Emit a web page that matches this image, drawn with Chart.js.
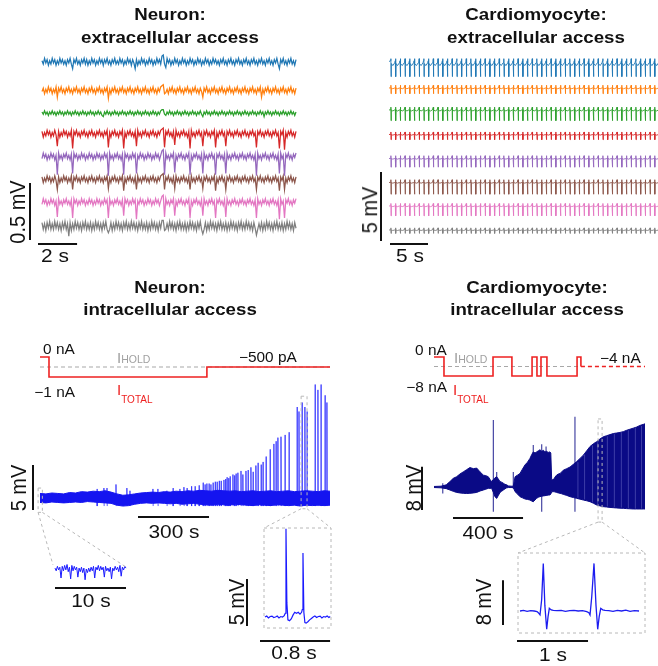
<!DOCTYPE html>
<html>
<head>
<meta charset="utf-8">
<script src="https://cdn.jsdelivr.net/npm/chart.js@4.4.1/dist/chart.umd.min.js"></script>
<style>
  body { margin: 0; background: #fff; }
  #fig { position: relative; width: 658px; height: 666px; overflow: hidden;
         font-family: "Liberation Sans", Arial, Helvetica, sans-serif; color: #111; }
  #fig canvas { position: absolute; left: 0; top: 0; }
  .t { position: absolute; white-space: nowrap; line-height: 1; }
  .ttl { font-weight: bold; font-size: 17px; transform: translateX(-50%) scaleX(1.1); }
  .sl { font-size: 19px; transform: translateX(-50%) scaleX(1.1); }
  .rl { font-size: 20px; transform: translate(-50%, -50%) rotate(-90deg) scaleY(1.08); }
  .cl { font-size: 14px; transform: scaleX(1.1); transform-origin: left; }
  .cr { font-size: 14px; transform: scaleX(1.1); transform-origin: right; }
  .isub { font-size: 15px; line-height: 15px; }
  .hold { color: #a0a0a0; }
  .total { color: #ee2222; }
</style>
</head>
<body>
<div id="fig">
  <canvas id="cA" width="658" height="666"></canvas>
  <canvas id="cB" width="658" height="666"></canvas>
  <canvas id="cCi" width="658" height="666"></canvas>
  <canvas id="cC" width="658" height="666"></canvas>
  <canvas id="cCz1" width="658" height="666"></canvas>
  <canvas id="cCz2" width="658" height="666"></canvas>
  <canvas id="cDi" width="658" height="666"></canvas>
  <canvas id="cD" width="658" height="666"></canvas>
  <canvas id="cDz" width="658" height="666"></canvas>
  <canvas id="overlay" width="658" height="666"></canvas>

  <!-- titles -->
  <div class="t ttl" style="left:170px;top:5.6px">Neuron:</div>
  <div class="t ttl" style="left:170px;top:28.6px">extracellular access</div>
  <div class="t ttl" style="left:536px;top:5.6px">Cardiomyocyte:</div>
  <div class="t ttl" style="left:536px;top:28.6px">extracellular access</div>
  <div class="t ttl" style="left:170px;top:278.6px">Neuron:</div>
  <div class="t ttl" style="left:170px;top:300.6px">intracellular access</div>
  <div class="t ttl" style="left:537px;top:278.6px">Cardiomyocyte:</div>
  <div class="t ttl" style="left:537px;top:300.6px">intracellular access</div>

  <!-- scale bar labels -->
  <div class="t sl" style="left:55px;top:245.5px">2 s</div>
  <div class="t sl" style="left:410px;top:245.5px">5 s</div>
  <div class="t sl" style="left:174px;top:521.5px">300 s</div>
  <div class="t sl" style="left:91px;top:590.5px">10 s</div>
  <div class="t sl" style="left:294px;top:642.5px">0.8 s</div>
  <div class="t sl" style="left:488px;top:522.5px">400 s</div>
  <div class="t sl" style="left:553px;top:644.5px">1 s</div>
  <div class="t rl" style="left:17px;top:212px">0.5 mV</div>
  <div class="t rl" style="left:370px;top:210px">5 mV</div>
  <div class="t rl" style="left:18px;top:488px">5 mV</div>
  <div class="t rl" style="left:236px;top:602px">5 mV</div>
  <div class="t rl" style="left:413px;top:488px">8 mV</div>
  <div class="t rl" style="left:483px;top:602px">8 mV</div>

  <!-- current protocol labels -->
  <div class="t cr" style="right:583px;top:342px">0 nA</div>
  <div class="t cr" style="right:583px;top:385px">−1 nA</div>
  <div class="t cl" style="left:239px;top:350px">−500 pA</div>
  <div class="t isub hold" style="left:117px;top:350.3px">I<span style="font-size:10.5px">HOLD</span></div>
  <div class="t isub total" style="left:117px;top:382.3px">I<span style="font-size:10px;vertical-align:-8px">TOTAL</span></div>
  <div class="t cr" style="right:211px;top:343px">0 nA</div>
  <div class="t cr" style="right:211px;top:380px">−8 nA</div>
  <div class="t cl" style="left:600px;top:351px">−4 nA</div>
  <div class="t isub hold" style="left:454px;top:350.3px">I<span style="font-size:10.5px">HOLD</span></div>
  <div class="t isub total" style="left:453px;top:382.3px">I<span style="font-size:10px;vertical-align:-8px">TOTAL</span></div>
</div>

<script>
/* ---------------- data ---------------- */

// Neuron, extracellular: 8 channels, 13 s, 200 samples each, values in units of 10 µV
const neuronExtraDur = 13;
const neuronExtraOffsets = [1.44, 1.19, 0.99, 0.81, 0.61, 0.41, 0.21, 0]; // mV, channel stacking
const nxBlue = [1,-2,3,-1,2,-3,1,-2,3,-1, 2,-3,1,-2,3,-1,2,-2,1,-3, 2,-1,3,-2,-6,2,-1,3,-2,1,
  -3,2,-1,3,-2,2,-3,1,-2,3, -1,2,-3,1,-2,3,-1,2,-3,2, -1,3,-2,1,-3,2,-1,3,-2,1,
  -2,3,-1,2,-3,1,-2,3,-1,2, -3,2,-1,-6,2,-3,1,-2,3,-1, 2,-3,1,-2,3,-1,2,-3,1,-2,
  3,-1,2,-2,5,6,-2,-5,3,-1, 2,-3,1,-2,3,-1,2,-3,1,-2, 3,-1,2,-3,1,-2,3,-1,2,-3,
  1,-2,3,-1,2,-3,1,-2,3,-1, 2,-3,1,-2,3,-1,2,-2,1,-3, 2,-1,3,-2,1,-3,2,-1,3,-2,
  1,-3,2,-1,3,-2,1,-3,2,-1, 3,-2,1,-3,2,-1,3,-2,1,-3, 2,-1,3,-2,1,-3,2,-1,3,-2,
  1,-3,2,-1,3,-2,-6,2,-1,3, -2,1,-3,2,-1,3,-2,1,-3,2];
const nxOrange = [-1,2,-3,1,-2,3,-1,2,-3,1, -2,3,-6,2,-1,3,-2,1,-3,2, -1,3,-2,1,-3,2,-1,3,-2,1,
  -3,2,-1,3,-2,1,-3,2,-1,3, -2,1,-3,2,-1,3,-2,1,-3,2, -1,3,-7,1,-3,2,-1,3,-2,1,
  -3,2,-1,3,-2,1,-3,2,-1,3, -2,1,-3,2,-1,3,-2,1,-3,2, -1,3,-2,1,-3,2,-1,3,-2,1,
  -3,2,-1,3,4,5,-3,-2,1,-3, 2,-1,3,-2,1,-3,2,-1,3,-2, 1,-3,2,-1,3,-2,1,-3,2,-1,
  3,-2,1,-3,2,-1,-6,2,-1,3, -2,1,-3,2,-1,3,-2,1,-3,2, -1,3,-2,1,-3,2,-1,3,-2,1,
  -3,2,-1,3,-2,1,-3,2,-1,3, -2,1,-3,2,-1,3,-2,1,-3,2, -1,3,-6,1,-3,2,-1,3,-2,1,
  -3,2,-1,3,-2,1,-3,2,-1,3, -2,1,-3,2,-1,3,-2,1,-3,2];
const nxGreen = [1,-1,2,-1,1,-2,1,-1,2,-1, 1,-2,1,-1,2,-1,1,-2,1,-1, 2,-1,1,-2,1,-1,2,-1,1,-2,
  1,-1,2,-1,1,-2,1,-1,2,-1, 1,-2,1,-1,2,-1,1,-2,-3,1, -1,2,-1,1,-2,1,-1,2,-1,1,
  -2,1,-1,2,-1,1,-2,1,-1,2, -1,1,-2,1,-1,2,-1,1,-2,1, -1,2,-1,1,-2,1,-1,2,-1,1,
  -2,1,-1,2,3,3,-1,-2,1,-1, 2,-1,1,-2,1,-1,2,-1,1,-2, 1,-1,2,-1,1,-2,1,-1,2,-1,
  1,-2,1,-1,2,-1,-3,1,-1,2, -1,1,-2,1,-1,2,-1,1,-2,1, -1,2,-1,1,-2,1,-1,2,-1,1,
  -2,1,-1,2,-1,1,-2,1,-1,2, -1,1,-2,1,-1,2,-1,1,-2,1, -1,2,-1,1,-3,1,-1,2,-1,1,
  -2,1,-1,2,-1,1,-2,1,-1,2, -1,1,-2,1,-1,2,-1,1,-2,1];
const nxRed = [2,-3,1,-2,3,-1,2,-3,1,-2, 3,-1,-11,2,-3,1,-2,3,-1,2, -3,1,-2,3,-13,2,-1,3,-2,1,
  -3,2,-1,3,-2,1,-3,2,-1,3, -2,1,-3,2,-1,3,-2,1,-3,2, -1,3,-12,1,-3,2,-1,3,-2,1,
  -3,2,-1,3,-13,1,-3,2,-1,3, -2,1,-3,2,-11,3,-2,1,-3,2, -1,3,-2,1,-3,2,-1,3,-2,1,
  -3,2,-1,3,4,5,-12,2,-1,3, -2,1,-3,2,-10,3,-2,1,-3,2, -1,3,-2,1,-3,2,-13,3,-2,1,
  -3,2,-1,3,-2,1,-11,2,-1,3, -2,1,-3,2,-1,3,-12,1,-3,2, -1,3,-2,1,-11,2,-1,3,-2,1,
  -3,2,-1,3,-2,1,-3,2,-1,3, -2,1,-3,2,-1,3,-2,1,-12,2, -1,3,-2,1,-3,2,-1,3,-2,1,
  -3,2,-1,3,-2,1,-13,2,-1,3, -14,1,-3,2,-1,3,-2,1,-3,2];
const nxPurple = [-2,3,-1,2,-3,1,-2,3,-1,2, -3,1,-16,3,-2,1,-3,2,-1,3, -2,1,-3,2,-15,3,-1,2,-3,1,
  -2,3,-1,2,-3,1,-2,3,-1,2, -3,1,-2,3,-1,2,-3,1,-2,3, -1,2,-17,3,-2,1,-3,2,-1,3,
  -2,1,-3,2,-16,3,-1,2,-3,1, -2,3,-1,2,-15,1,-2,3,-1,2, -3,1,-2,3,-1,2,-3,1,-2,3,
  -1,2,-3,1,5,6,-16,3,-2,1, -3,2,-1,3,-14,1,-3,2,-1,3, -2,1,-3,2,-1,3,-16,1,-3,2,
  -1,3,-2,1,-3,2,-15,3,-2,1, -3,2,-1,3,-2,1,-16,2,-1,3, -2,1,-3,2,-15,3,-2,1,-3,2,
  -1,3,-2,1,-3,2,-1,3,-2,1, -3,2,-1,3,-2,1,-3,2,-17,3, -2,1,-3,2,-1,3,-2,1,-3,2,
  -1,3,-2,1,-3,2,-15,3,-2,1, -17,2,-1,3,-2,1,-3,2,-1,3];
const nxBrown = [2,-3,1,-2,3,-1,2,-3,1,-2, 3,-1,-9,2,-3,1,-2,3,-1,2, -3,1,-2,3,-9,2,-1,3,-2,1,
  -3,2,-1,3,-2,1,-3,2,-1,3, -2,1,-3,2,-1,3,-2,1,-3,2, -1,3,-8,1,-3,2,-1,3,-2,1,
  -3,2,-1,3,-10,1,-3,2,-1,3, -2,1,-3,2,-9,3,-2,1,-3,2, -1,3,-2,1,-3,2,-1,3,-2,1,
  -3,2,-1,3,4,5,-9,2,-1,3, -2,1,-3,2,-8,3,-2,1,-3,2, -1,3,-2,1,-3,2,-9,3,-2,1,
  -3,2,-1,3,-2,1,-8,2,-1,3, -2,1,-3,2,-1,3,-10,1,-3,2, -1,3,-2,1,-9,2,-1,3,-2,1,
  -3,2,-1,3,-2,1,-3,2,-1,3, -2,1,-3,2,-1,3,-2,1,-9,2, -1,3,-2,1,-3,2,-1,3,-2,1,
  -3,2,-1,3,-2,1,-10,2,-1,3, -9,1,-3,2,-1,3,-2,1,-3,2];
const nxPink = [-2,3,-1,2,-3,1,-2,3,-1,2, -3,1,-13,3,-2,1,-3,2,-1,3, -2,1,-3,2,-14,3,-1,2,-3,1,
  -2,3,-1,2,-3,1,-2,3,-1,2, -3,1,-2,3,-1,2,-3,1,-2,3, -1,2,-14,3,-2,1,-3,2,-1,3,
  -2,1,-3,2,-12,3,-1,2,-3,1, -2,3,-1,2,-15,1,-2,3,-1,2, -3,1,-2,3,-1,2,-3,1,-2,3,
  -1,2,-3,1,5,6,-13,3,-2,1, -3,2,-1,3,-12,1,-3,2,-1,3, -2,1,-3,2,-1,3,-14,1,-3,2,
  -1,3,-2,1,-3,2,-12,3,-2,1, -3,2,-1,3,-2,1,-14,2,-1,3, -2,1,-3,2,-13,3,-2,1,-3,2,
  -1,3,-2,1,-3,2,-1,3,-2,1, -3,2,-1,3,-2,1,-3,2,-14,3, -2,1,-3,2,-1,3,-2,1,-3,2,
  -1,3,-2,1,-3,2,-15,3,-2,1, -14,2,-1,3,-2,1,-3,2,-1,3];
const nxGray = [3,-3,2,-4,3,-2,4,-3,2,-3, 4,-2,3,-3,2,-4,3,-2,4,-3, 2,-9,3,-4,2,-3,4,-2,3,-3,
  2,-4,3,-2,4,-3,2,-3,3,-4, 2,-3,4,-2,3,-3,2,-4,3,-2, 4,-3,-6,-3,3,-4,2,-3,4,-2,
  3,-3,2,-4,3,-2,4,-3,2,-3, 4,-2,3,-3,2,-4,3,-2,4,-3, 2,-3,3,-4,2,-3,4,-2,3,-3,
  2,-4,3,-2,5,5,-4,-3,2,-3, 4,-2,3,-3,2,-4,3,-2,4,-3, 2,-3,3,-4,2,-3,4,-2,3,-3,
  2,-4,3,-2,4,-3,-7,-3,3,-4, 2,-3,4,-2,3,-3,2,-4,3,-2, 4,-3,2,-3,3,-4,2,-3,4,-2,
  3,-3,2,-4,3,-2,4,-3,2,-3, 4,-2,3,-3,2,-4,3,-2,-8,-3, 2,-3,3,-4,2,-3,4,-2,3,-3,
  2,-4,3,-2,4,-3,2,-3,3,-4, 2,-3,4,-2,3,-3,2,-4,3,-2];

// Cardiomyocyte, extracellular: 8 channels, beats every ~0.62 s
const cardioExtraDur = 35.4;
const cardioExtraOffsets = [12.21, 10.29, 8.70, 6.92, 5.18, 3.44, 1.74, 0]; // mV, channel stacking
const beatTimes = [0.25,0.87,1.49,2.11,2.73,3.35,3.97,4.59,5.21,5.83,6.45,7.07,7.69,8.31,8.93,
  9.55,10.17,10.79,11.41,12.03,12.65,13.27,13.89,14.51,15.13,15.75,16.37,16.99,17.61,18.23,
  18.85,19.47,20.09,20.71,21.33,21.95,22.57,23.19,23.81,24.43,25.05,25.67,26.29,26.91,27.53,
  28.15,28.77,29.39,30.01,30.63,31.25,31.87,32.49,33.11,33.73,34.35,34.97];
const beatShapeT = [-0.04, 0, 0.02, 0.06, 0.25, 0.5]; // s relative to each beat
const cxBlue   = [0.05, 0.2, -1.1, -0.15, -0.3, -0.1];
const cxOrange = [0, 0.2, -0.42, 0, -0.06, 0];
const cxGreen  = [0, 0.2, -0.78, 0, -0.08, 0];
const cxRed    = [0, 0.18, -0.38, 0, -0.05, 0];
const cxPurple = [0, 0.2, -0.63, 0, -0.05, 0];
const cxBrown  = [0, 0.2, -0.85, 0, -0.05, 0];
const cxPink   = [0, 0.18, -0.72, 0, -0.05, 0];
const cxGray   = [0, 0.15, -0.25, 0, -0.04, 0];

// Neuron, intracellular (time in s, potential in mV, current in nA)
const neuronStepT = [0, 38, 705, 1225];
const neuronStepI = [0, -1, -0.5, -0.5];
const neuronHold = -0.5;
const neuronDur = 1225;
const neuronBandT = [0,25,50,75,100,125,150,175,200,225,250,275,300,325,350,375,400,425,450,475,
  500,525,550,575,600,625,650,675,700,725,750,775,800,825,850,875,900,925,950,975,
  1000,1025,1050,1075,1100,1125,1150,1175,1200,1225];
const neuronBandHi = [0.5,0.45,0.55,0.5,0.45,0.6,0.55,0.7,0.65,0.75, 0.7,0.8,0.65,0.45,0.3,0.35,0.45,0.55,0.6,0.65,
  0.6,0.7,0.65,0.75,0.7,0.8,0.75,0.85,0.8,0.75, 0.85,0.8,0.75,0.8,0.7,0.75,0.8,0.7,0.75,0.8,
  0.7,0.75,0.8,0.7,0.75,0.8,0.75,0.7,0.8,0.75];
const neuronBandLo = [-0.5,-0.55,-0.45,-0.5,-0.55,-0.5,-0.45,-0.5,-0.4,-0.45, -0.5,-0.55,-0.6,-0.8,-0.9,-0.85,-0.7,-0.6,-0.55,-0.6,
  -0.55,-0.6,-0.65,-0.6,-0.7,-0.65,-0.6,-0.7,-0.75,-0.8, -0.7,-0.75,-0.8,-0.7,-0.75,-0.8,-0.85,-0.75,-0.8,-0.85,
  -0.75,-0.8,-0.85,-0.8,-0.9,-0.8,-0.85,-0.8,-0.85,-0.8];
const neuronSpikeT = [241,270,283,321,367,380,477,498,536,562,591,608,621,640,655,672,689,697,705,714,722,
  731,740,748,757,765,777,784,790,797,803,815,822,828,836,849,857,870,879,891,900,912,921,934,942,955,
  972,988,997,1005,1018,1035,1052,1086,1094,1107,1119,1128,1162,1174,1187,1204,1212];
const neuronSpikeV = [1.0,1.1,1.1,1.5,1.1,0.8,1.0,1.0,0.8,1.1,1.0,1.2,1.1,1.3,1.3,1.4,1.7,1.5,1.6,1.6,1.5,
  1.7,1.8,1.8,1.9,1.9,2.0,2.1,2.3,2.2,2.4,2.6,2.5,2.7,2.8,3.0,2.6,3.0,3.1,3.4,2.9,3.6,3.9,3.7,4.0,4.6,
  5.4,6.0,6.3,6.7,6.8,7.0,7.3,10.1,9.6,10.6,10.1,9.6,12.6,12.0,12.6,11.4,10.6];
// first 10 s, zoomed
const neuronZoom1Dur = 10;
const neuronZoom1V = [0.1,-0.2,0.3,-0.1,0.2,-1.0,0.3,-0.2,0.4,-0.1, 0.5,-0.3,0.2,-1.1,0.4,-0.2,0.3,-0.1,0.2,-0.9,
  0.1,-0.3,0.2,-0.4,0.1,-1.2,0.0,-0.4,0.1,-0.3, 0.2,-0.2,0.3,-1.0,0.2,-0.1,0.4,-0.2,0.3,-0.1,
  0.2,-0.9,0.3,-0.2,0.1,-0.3,0.2,-1.1,0.1,-0.2, 0.3,-0.1,0.2,-0.3,0.4,-0.8,0.2,-0.1,0.3,0.1];
// 0.75 s around two late spikes
const neuronZoom2T = [0,0.02,0.04,0.06,0.08,0.1,0.12,0.14,0.16,0.18,0.2,0.22,0.232,0.24,0.25,0.262,0.28,0.3,0.32,0.34,
  0.36,0.38,0.4,0.418,0.426,0.434,0.444,0.456,0.47,0.49,0.51,0.53,0.55,0.57,0.59,0.61,0.63,0.65,0.67,0.69,0.71,0.73,0.745];
const neuronZoom2V = [0,0.1,-0.1,0.05,0.1,-0.05,0,0.1,-0.1,0.05,0,0.15,0.4,9.4,1.5,-0.3,-0.4,-0.2,0.2,0.5,
  0.4,0.5,0.3,0.5,0.8,6.8,0.5,-0.6,-0.65,-0.5,-0.3,-0.15,0,0.1,-0.05,0.05,0.1,-0.1,0.05,0,0.1,-0.05,0.05];

// Cardiomyocyte, intracellular
const cardioStepT = [0, 57, 337, 445, 560, 588, 611, 645, 817, 839, 1205];
const cardioStepI = [0, -8, 0, -8, 0, -8, 0, -8, 0, -4, -4];
const cardioHold = -4;
const cardioDur = 1205;
const cardioEnvT = [0,40,70,91,110,129,148,167,186,205,225,244,263,282,296,310,320,329,339,348,
  358,367,377,386,396,405,415,425,440,453,463,477,491,505,520,534,548,558,567,577,
  586,596,605,615,625,634,643,652,662,667,672,681,690,700,710,720,729,738,758,777,
  796,815,834,853,872,891,910,929,948,967,986,1005,1024,1043,1062,1081,1100,1119,1138,1157,
  1176,1196,1205];
const cardioEnvHi = [0.1,0.15,0.4,1.0,1.6,1.9,2.4,2.8,3.2,3.6,3.4,3.5,2.8,2.2,2.1,1.9,1.4,1.0,1.4,1.7,
  1.9,1.5,1.0,0.9,0.7,0.5,0.4,0.2,0.15,0.15,1.9,2.2,2.5,3.3,4.1,4.6,5.3,6.0,6.5,6.3,
  6.5,6.7,6.9,6.6,6.8,6.5,6.6,6.4,6.5,6.3,1.4,1.3,1.8,2.2,2.4,2.5,2.8,3.1,3.4,3.7,
  4.2,4.7,5.3,5.9,6.7,7.5,8.0,8.4,8.9,9.3,9.5,9.7,9.9,10.0,10.1,10.25,10.5,10.7,10.9,11.1,
  11.4,11.6,11.7];
const cardioEnvLo = [-0.1,-0.15,-0.3,-0.56,-0.8,-1.0,-1.1,-1.17,-1.2,-1.17,-1.1,-1.0,-0.74,-0.56,-0.4,-0.25,-0.25,-0.25,-1.0,-1.8,
  -2.1,-1.6,-1.0,-0.8,-0.56,-0.35,-0.15,-0.1,-0.1,-0.1,-0.86,-1.3,-1.79,-2.0,-2.22,-2.3,-2.41,-2.6,-2.72,-2.4,
  -2.1,-1.9,-1.79,-1.7,-1.65,-1.6,-1.55,-1.5,-1.48,-1.3,-0.9,-0.86,-0.9,-1.0,-1.1,-1.17,-1.25,-1.36,-1.55,-1.79,
  -1.95,-2.1,-2.25,-2.41,-2.55,-2.72,-3.0,-3.33,-3.5,-3.64,-3.7,-3.78,-3.83,-3.88,-3.92,-3.95,-4.0,-4.03,-4.07,-4.07,
  -4.07,-4.07,-4.07];
const cardioSpikeT  = [50, 339, 358, 453, 567, 615, 640, 805];
const cardioSpikeHi = [0.7, 12.4, 2.8, 2.8, 7.8, 7.9, 7.5, 13.0];
const cardioSpikeLo = [-1.2, -4.6, -2.1, -0.3, -2.7, -4.6, -1.6, -4.6];
// lighter stripes inside the late envelope
const cardioGapT  = [822, 860, 905, 935, 990, 1030, 1070, 1110, 1150, 1185];
const cardioGapHi = [4.6, 6.0, 7.7, 8.3, 9.4, 9.8, 10.1, 10.5, 11.0, 11.3];
const cardioGapLo = [-2.0, -2.3, -2.8, -3.2, -3.6, -3.7, -3.8, -3.9, -4.0, -4.0];
const cardioZoomT = [0,0.05,0.1,0.15,0.2,0.24,0.258,0.282,0.305,0.328,0.35,0.376,0.395,0.413,0.44,0.469,0.52,0.58,0.64,0.7,
  0.76,0.82,0.88,0.94,0.97,0.986,1.01,1.042,1.07,1.094,1.115,1.137,1.165,1.197,1.25,1.31,1.37,1.43,1.49,1.55,1.61,1.676];
const cardioZoomV = [0,0.1,-0.05,0.05,0,-0.1,-0.3,-0.7,2.0,8.5,1.0,-3.27,-1.0,0.48,0.2,0.1,0.05,0.1,-0.05,0.05,
  0.1,0,0.05,-0.1,-0.3,-0.7,2.5,8.5,1.0,-3.27,-1.0,0.48,0.2,0.1,0.05,-0.05,0.1,0,0.15,-0.05,0.05,0];

/* ---------------- helpers ---------------- */
const W = 658, H = 666;
const tab10 = ['#1f77b4','#ff7f0e','#2ca02c','#d62728','#9467bd','#8c564b','#e377c2','#7f7f7f'];

// scale bars, dashed frames and zoom boxes
const decor = {
  id: 'decor',
  afterDatasetsDraw(chart, args, o) {
    const { ctx, chartArea: a, scales: { x, y } } = chart;
    ctx.save();
    ctx.strokeStyle = '#111';
    ctx.lineWidth = 2;
    if (o.vbar) {
      const h = y.getPixelForValue(0) - y.getPixelForValue(o.vbar.len);
      ctx.beginPath(); ctx.moveTo(o.vbar.x, o.vbar.bottom); ctx.lineTo(o.vbar.x, o.vbar.bottom - h); ctx.stroke();
    }
    if (o.hbar) {
      const w = x.getPixelForValue(o.hbar.len) - x.getPixelForValue(0);
      ctx.beginPath(); ctx.moveTo(o.hbar.left, o.hbar.y); ctx.lineTo(o.hbar.left + w, o.hbar.y); ctx.stroke();
    }
    ctx.strokeStyle = '#b8b8b8';
    ctx.lineWidth = 1;
    ctx.setLineDash([3, 3]);
    if (o.frame) ctx.strokeRect(a.left, a.top, a.right - a.left, a.bottom - a.top);
    if (o.zoom) {
      const l = x.getPixelForValue(o.zoom.t0), r = x.getPixelForValue(o.zoom.t1);
      const t = y.getPixelForValue(o.zoom.hi), b = y.getPixelForValue(o.zoom.lo);
      ctx.strokeRect(l, t, r - l, b - t);
    }
    ctx.restore();
  }
};

function makeChart(id, datasets, xr, yr, area, deco) {
  return new Chart(document.getElementById(id), {
    type: 'line',
    data: { datasets },
    options: {
      responsive: false, animation: false, events: [],
      layout: { padding: { left: area[0], top: area[1], right: W - area[2], bottom: H - area[3] } },
      scales: {
        x: { type: 'linear', display: false, min: xr[0], max: xr[1] },
        y: { type: 'linear', display: false, min: yr[0], max: yr[1] }
      },
      elements: { point: { radius: 0 }, line: { tension: 0 } },
      plugins: { legend: { display: false }, tooltip: { enabled: false }, decor: deco || {} }
    },
    plugins: [decor]
  });
}

function line(data, color, width, extra) {
  return Object.assign({ data, borderColor: color, backgroundColor: color, borderWidth: width, fill: false, clip: false }, extra || {});
}

function verticals(ts, lo, hi) {
  const pts = [];
  ts.forEach((t, i) => pts.push({ x: t, y: lo[i] }, { x: t, y: hi[i] }, { x: t, y: null }));
  return pts;
}

/* ---------------- A: neuron extracellular ---------------- */
const nxTraces = [nxBlue, nxOrange, nxGreen, nxRed, nxPurple, nxBrown, nxPink, nxGray];
const setsA = nxTraces.map((arr, k) => line(
  arr.map((v, i) => ({ x: i * neuronExtraDur / (arr.length - 1), y: v / 100 + neuronExtraOffsets[k] })),
  tab10[k], 1.25));
makeChart('cA', setsA, [0, neuronExtraDur], [-0.167, 1.544], [42, 50, 296, 245],
  { vbar: { len: 0.5, x: 30, bottom: 240 }, hbar: { len: 2, left: 38, y: 244 } });

/* ---------------- B: cardiomyocyte extracellular ---------------- */
const cxTraces = [cxBlue, cxOrange, cxGreen, cxRed, cxPurple, cxBrown, cxPink, cxGray];
const setsB = cxTraces.map((shape, k) => {
  const off = cardioExtraOffsets[k];
  const pts = [{ x: 0, y: off }];
  beatTimes.forEach(bt => beatShapeT.forEach((dt, j) => pts.push({ x: bt + dt, y: shape[j] + off })));
  pts.push({ x: cardioExtraDur + 0.2, y: off });
  return line(pts, tab10[k], 0.9);
});
makeChart('cB', setsB, [0, cardioExtraDur], [-1.09, 13.04], [389, 50, 658, 245],
  { vbar: { len: 5, x: 381, bottom: 241 }, hbar: { len: 5, left: 390, y: 244 } });

/* ---------------- C: neuron intracellular ---------------- */
const stepC = line(neuronStepT.map((t, i) => ({ x: t, y: neuronStepI[i] })), '#ee2222', 1.6, { stepped: true });
const holdC = line([{ x: 0, y: neuronHold }, { x: neuronDur, y: neuronHold }], '#a8a8a8', 1.2, { borderDash: [4, 3] });
makeChart('cCi', [stepC, holdC], [0, neuronDur], [-1.5, 0.5], [40, 347, 330, 387]);

const spikePtsC = [];
neuronSpikeT.forEach((t, i) => {
  spikePtsC.push({ x: t, y: 0 }, { x: t, y: neuronSpikeV[i] }, { x: t + 1, y: -0.9 }, { x: t + 1, y: null });
});
const bandHiC = line(neuronBandT.map((t, i) => ({ x: t, y: neuronBandHi[i] })), '#1414f0', 1, { fill: '+1' });
const bandLoC = line(neuronBandT.map((t, i) => ({ x: t, y: neuronBandLo[i] })), '#1414f0', 1);
const spikesC = line(spikePtsC, 'rgba(30,30,255,0.72)', 1);
const chartC = makeChart('cC', [bandHiC, bandLoC, spikesC], [0, neuronDur], [-1.56, 13.1], [40, 380, 330, 512],
  { vbar: { len: 5, x: 33, bottom: 510 }, hbar: { len: 300, left: 138, y: 517 },
    zoom: { t0: -8, t1: 10, lo: -1.6, hi: 1.1 } });

const chartCz1 = makeChart('cCz1',
  [line(neuronZoom1V.map((v, i) => ({ x: i * neuronZoom1Dur / (neuronZoom1V.length - 1), y: v })), '#1a1aff', 1)],
  [0, neuronZoom1Dur], [-1.78, 1.56], [55, 555, 126, 585],
  { hbar: { len: 10, left: 55, y: 588 } });

const chartCz2 = makeChart('cCz2',
  [line(neuronZoom2T.map((t, i) => ({ x: t, y: neuronZoom2V[i] })), '#1a1aff', 1.2)],
  [-0.011, 0.754], [-1.17, 9.47], [264, 528, 331, 628],
  { frame: true, vbar: { len: 5, x: 247, bottom: 626 }, hbar: { len: 0.8, left: 260, y: 641 } });

/* ---------------- D: cardiomyocyte intracellular ---------------- */
const stepD = line(cardioStepT.map((t, i) => ({ x: t, y: cardioStepI[i] })), '#ee2222', 1.6, {
  stepped: true,
  segment: { borderDash: c => c.p0DataIndex >= cardioStepT.length - 2 ? [4, 3] : undefined }
});
const holdD = line([{ x: 0, y: cardioHold }, { x: cardioDur, y: cardioHold }], '#a8a8a8', 1.2, { borderDash: [4, 3] });
makeChart('cDi', [stepD, holdD], [0, cardioDur], [-12.63, 4.21], [434, 347, 645, 387]);

const gapsD = line(verticals(cardioGapT, cardioGapLo, cardioGapHi), 'rgba(95,95,190,0.75)', 0.8);
const envHiD = line(cardioEnvT.map((t, i) => ({ x: t, y: cardioEnvHi[i] })), '#0a0a86', 1, { fill: '+1' });
const envLoD = line(cardioEnvT.map((t, i) => ({ x: t, y: cardioEnvLo[i] })), '#0a0a86', 1);
const spikesD = line(verticals(cardioSpikeT, cardioSpikeLo, cardioSpikeHi), 'rgba(10,10,134,0.75)', 1.2);
const chartD = makeChart('cD', [gapsD, envHiD, envLoD, spikesD], [0, cardioDur], [-6.11, 14.26], [434, 410, 645, 520],
  { vbar: { len: 8, x: 422, bottom: 510 }, hbar: { len: 400, left: 453, y: 518 },
    zoom: { t0: 937, t1: 960, lo: -6.5, hi: 12.6 } });

const chartDz = makeChart('cDz',
  [line(cardioZoomT.map((t, i) => ({ x: t, y: cardioZoomV[i] })), '#1c1cf0', 1.3)],
  [-0.028, 1.76], [-3.93, 10.36], [518, 553, 645, 633],
  { frame: true, vbar: { len: 8, x: 503, bottom: 625 }, hbar: { len: 1, left: 517, y: 641 } });

/* ---------------- zoom connectors ---------------- */
(function drawConnectors() {
  const ctx = document.getElementById('overlay').getContext('2d');
  const P = (ch, t, v) => [ch.scales.x.getPixelForValue(t), ch.scales.y.getPixelForValue(v)];
  ctx.strokeStyle = '#b8b8b8';
  ctx.lineWidth = 1;
  ctx.setLineDash([3, 3]);
  const seg = (p, q) => { ctx.beginPath(); ctx.moveTo(p[0], p[1]); ctx.lineTo(q[0], q[1]); ctx.stroke(); };

  // neuron: start of recording -> 10 s inset
  const a1 = chartCz1.chartArea, base1 = chartCz1.scales.y.getPixelForValue(0);
  seg(P(chartC, -8, -1.6), [a1.left - 2, base1 - 4]);
  seg(P(chartC, 10, -1.6), [a1.right, base1 - 2]);

  // neuron: late spikes box -> 0.8 s inset
  const [l2, t2] = P(chartC, 1103, 11.3), [r2, b2] = P(chartC, 1128, -1.2);
  ctx.strokeRect(l2, t2, r2 - l2, b2 - t2);
  const a2 = chartCz2.chartArea;
  seg([l2, b2], [a2.left, a2.top]);
  seg([r2, b2], [a2.right, a2.top]);

  // cardiomyocyte: box -> 1 s inset
  const [l3] = P(chartD, 937, 0), [r3, b3] = P(chartD, 960, -6.5);
  const a3 = chartDz.chartArea;
  seg([l3, b3], [a3.left, a3.top]);
  seg([r3, b3], [a3.right, a3.top]);
})();
</script>
</body>
</html>
